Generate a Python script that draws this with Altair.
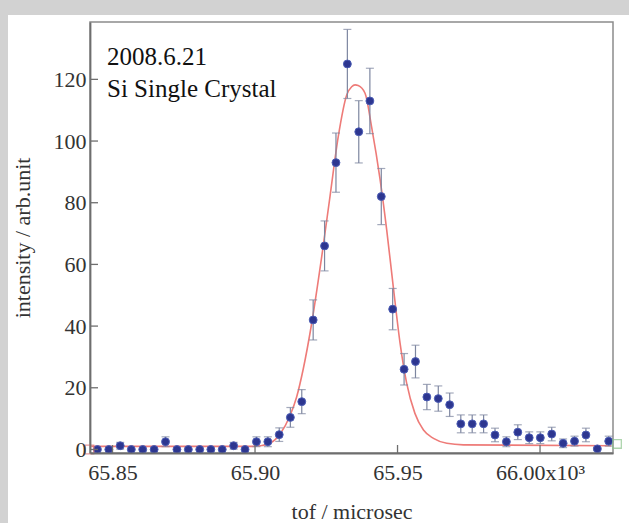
import altair as alt
import pandas as pd

# ---- data ----
tof = [65.8447, 65.8487, 65.8527, 65.8566, 65.8606, 65.8646, 65.8686, 65.8726,
       65.8766, 65.8806, 65.8845, 65.8885, 65.8925, 65.8965, 65.9005, 65.9045,
       65.9085, 65.9124, 65.9164, 65.9204, 65.9244, 65.9284, 65.9324, 65.9364,
       65.9403, 65.9443, 65.9483, 65.9523, 65.9563, 65.9603, 65.9643, 65.9683,
       65.9722, 65.9762, 65.9802, 65.9842, 65.9882, 65.9922, 65.9962, 66.0001,
       66.0041, 66.0081, 66.0121, 66.0161, 66.0201, 66.0241]
intensity = [0, 0, 1.2, 0, 0, 0, 2.5, 0, 0, 0, 0, 0, 1.2, 0, 2.5, 2.5,
             4.8, 10.4, 15.5, 42, 66, 93, 125, 103, 113, 82, 45.5, 26, 28.5, 17, 16.5, 14.5,
             8.3, 8.3, 8.3, 4.7, 2.5, 5.6, 3.8, 3.8, 5.0, 2.0, 2.7, 4.7, 0.2, 2.7]
error = [0, 0, 1.1, 0, 0, 0, 1.6, 0, 0, 0, 0, 0, 1.1, 0, 1.6, 1.6,
         2.2, 3.2, 3.9, 6.5, 8.1, 9.6, 11.2, 10.1, 10.6, 9.1, 6.7, 5.1, 5.3, 4.1, 4.1, 3.8,
         2.9, 2.9, 2.9, 2.2, 1.6, 2.4, 1.9, 1.9, 2.2, 1.4, 1.6, 2.2, 0.4, 1.6]

fit_tof = [65.8425, 65.8982, 65.9025, 65.9053, 65.9088, 65.9123, 65.9146, 65.9169,
           65.9199, 65.9234, 65.9263, 65.9292, 65.9322, 65.9339, 65.9351, 65.9362,
           65.9386, 65.9409, 65.9439, 65.9462, 65.9485, 65.9509, 65.9532, 65.9561,
           65.9591, 65.9626, 65.9673, 65.9731, 66.0250]
fit_intensity = [1.0, 1.0, 1.3, 2.0, 5.0, 11.0, 17.0, 26.0,
                 41.0, 62.5, 82.0, 101.4, 115.0, 117.6, 118.2, 118.0,
                 115.5, 104.6, 87.4, 71.2, 52.8, 34.4, 21.5, 11.7,
                 6.3, 3.6, 2.0, 1.5, 1.2]

cursor_tof = [65.8419, 66.0270]
cursor_intensity = [0.0, 1.8]
cursor_name = ["A", "B"]

x_ticks = [65.85, 65.90, 65.95, 66.00]
y_ticks = [0, 20, 40, 60, 80, 100, 120]
annotation_lines = ["2008.6.21", "Si Single Crystal"]

# ---- tables ----
pts = pd.DataFrame({"x": tof, "y": intensity, "err": error})
pts["lo"] = pts["y"] - pts["err"]
pts["hi"] = pts["y"] + pts["err"]
bars = pts[pts["err"] > 0]
fit = pd.DataFrame({"x": fit_tof, "y": fit_intensity})
cur = pd.DataFrame({"x": cursor_tof, "y": cursor_intensity, "c": cursor_name})
xt = pd.DataFrame({"x": x_ticks})
yt = pd.DataFrame({"y": y_ticks})

FONT = "Liberation Serif"
GRAY_BG = "#d2d2d2"
W, H = 523, 431
xscale = alt.Scale(domain=[65.8421, 66.0256], nice=False, zero=False)
yscale = alt.Scale(domain=[-1.15, 138.6], nice=False, zero=False)

x_axis = alt.Axis(
    values=x_ticks,
    labelExpr="datum.value >= 65.999 ? '66.00x10³' : format(datum.value, '.2f')",
    ticks=False, grid=False,
    domainColor="#6e6e6e", domainWidth=1.8,
    labelFont=FONT, labelFontSize=22, labelColor="#333333", labelPadding=9,
    labelFlush=False, labelOverlap=False,
    title="tof / microsec", titleFont=FONT, titleFontSize=22,
    titleFontWeight="normal", titleColor="#333333",
    titleY=58, titleBaseline="middle", zindex=1,
)
y_axis = alt.Axis(
    values=y_ticks,
    ticks=False, grid=False,
    domainColor="#6e6e6e", domainWidth=1.8,
    labelFont=FONT, labelFontSize=22, labelColor="#333333", labelPadding=4,
    labelFlush=False, labelOverlap=False,
    title="intensity / arb.unit", titleFont=FONT, titleFontSize=22,
    titleFontWeight="normal", titleColor="#333333",
    titleX=-68, titleY=H / 2, titleAngle=-90, titleAlign="center",
    titleBaseline="middle", zindex=1,
)

X = lambda f: alt.X(f, scale=xscale, axis=x_axis)
Y = lambda f: alt.Y(f, scale=yscale, axis=y_axis)

one = alt.Data(values=[{"k": 1}])
strip_top = alt.Chart(one).mark_rect(color=GRAY_BG).encode(
    x=alt.value(-90), x2=alt.value(W + 16), y=alt.value(-22), y2=alt.value(-7)
)
strip_left = alt.Chart(one).mark_rect(color=GRAY_BG).encode(
    x=alt.value(-90), x2=alt.value(-82), y=alt.value(-22), y2=alt.value(H + 70)
)

curve = alt.Chart(fit).mark_line(color="#ee7b78", strokeWidth=1.6, interpolate="monotone").encode(
    x=X("x:Q"), y=Y("y:Q"),
)
err_rules = alt.Chart(bars).mark_rule(color="#7d86a0", strokeWidth=1.2).encode(
    x=X("x:Q"), y=Y("lo:Q"), y2="hi:Q",
)
cap_lo = alt.Chart(bars).mark_tick(color="#7d86a0", orient="horizontal", size=8, thickness=1.2).encode(
    x=X("x:Q"), y=Y("lo:Q"),
)
cap_hi = alt.Chart(bars).mark_tick(color="#7d86a0", orient="horizontal", size=8, thickness=1.2).encode(
    x=X("x:Q"), y=Y("hi:Q"),
)
points = alt.Chart(pts).mark_point(
    filled=True, shape="circle", size=62, color="#2d3690",
    stroke="#4c5db5", strokeWidth=1, opacity=1
).encode(x=X("x:Q"), y=Y("y:Q"))

cursors = alt.Chart(cur).mark_point(shape="square", filled=False, size=75, strokeWidth=1.3).encode(
    x=X("x:Q"), y=Y("y:Q"),
    color=alt.Color("c:N", scale=alt.Scale(domain=cursor_name, range=["#e27070", "#8cc48c"]), legend=None),
)

xtick_marks = alt.Chart(xt).mark_rule(color="#6e6e6e", strokeWidth=1.3).encode(
    x=X("x:Q"), y=alt.value(H), y2=alt.value(H - 8),
)
ytick_marks = alt.Chart(yt).mark_rule(color="#6e6e6e", strokeWidth=1.3).encode(
    y=Y("y:Q"), x=alt.value(0), x2=alt.value(8),
)

note = alt.Chart(one).mark_text(
    text=annotation_lines, font=FONT, fontSize=25, color="#111111",
    align="left", baseline="alphabetic", lineHeight=31.5
).encode(x=alt.value(17), y=alt.value(43))

chart = alt.layer(
    strip_top, strip_left, curve, err_rules, cap_lo, cap_hi, points, cursors,
    xtick_marks, ytick_marks, note
).properties(
    width=W, height=H,
    autosize=alt.AutoSizeParams(type="none"),
    padding={"left": 90, "top": 22, "right": 16, "bottom": 70},
    background="white",
).configure_view(
    stroke="#8c8c8c", strokeWidth=1.5, fill="white"
)

chart.save("out.html", embed_options={"renderer": "svg", "actions": False})
